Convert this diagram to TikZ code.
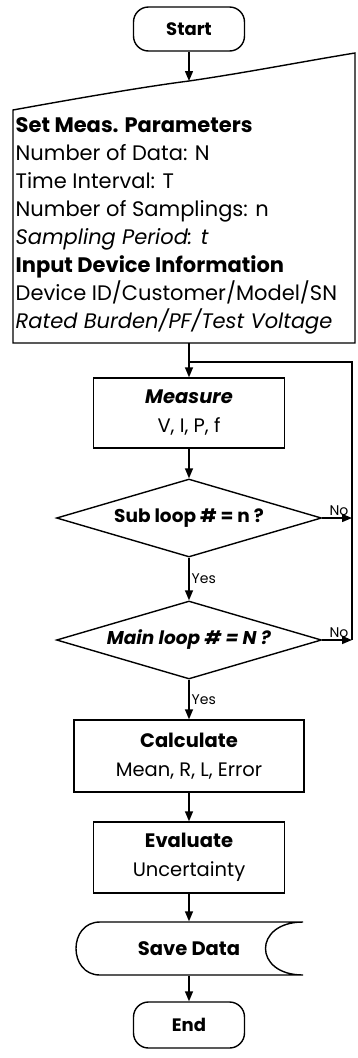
\documentclass[tikz,border=0pt]{standalone}
\usepackage{fontspec}
\setmainfont{Poppins}
\usetikzlibrary{shapes.geometric,arrows.meta}
\begin{document}
\begin{tikzpicture}[x=1pt,y=-1pt,line width=1.4pt,
  >={Triangle[length=10pt,width=8pt]},
  term/.style={draw,rectangle,rounded corners=15pt,minimum width=111pt,minimum height=44pt,inner sep=0pt,font=\bfseries\fontsize{18}{20}\selectfont},
  proc/.style={draw,rectangle,minimum width=191pt,minimum height=70pt,inner sep=0pt,align=center,font=\fontsize{19.5}{29}\selectfont},
  decision/.style={draw,diamond,shape aspect=3.4,minimum width=265pt,minimum height=78pt,inner sep=0pt,font=\bfseries\fontsize{18.5}{22}\selectfont},
  lbl/.style={font=\fontsize{14}{16}\selectfont,inner sep=2pt},
  ghost/.style={rectangle,inner sep=0pt}]
\useasboundingbox (0,0) rectangle (357,1058);

% Start
\node[term] (start) at (189,29) {Start};

% manual input shape
\draw (13,343) -- (13,110) .. controls (90,96) and (150,86) .. (189,81)
      .. controls (250,72) and (300,62) .. (355,53) -- (355,343) -- cycle;
\coordinate (pin) at (189,81);
\coordinate (pout) at (189,343);
\node[anchor=north west,align=left,inner sep=0pt,font=\fontsize{21}{28}\selectfont] (params) at (15,117)
 {\textbf{Set Meas. Parameters}\\
  Number of Data: N\\
  Time Interval: T\\
  Number of Samplings: n\\
  \textit{Sampling Period: t}\\
  \textbf{Input Device Information}\\
  Device ID/Customer/Model/SN\\
  \textit{Rated Burden/PF/Test Voltage}};

% process boxes
\node[proc] (meas) at (189,413) {\textbf{\textit{Measure}}\\V, I, P, f};
\node[decision] (sub) at (189,518) {Sub loop \# = n ?};
\node[decision] (main) at (189,640) {\textit{Main loop \# = N ?}};
\node[proc,minimum width=230pt,minimum height=72pt] (calc) at (189,756) {\textbf{Calculate}\\Mean, R, L, Error};
\node[proc,minimum height=71pt] (eval) at (189,857.5) {\textbf{Evaluate}\\Uncertainty};

% stored data
\node[ghost,minimum width=229pt,minimum height=53pt,font=\bfseries\fontsize{19.5}{22}\selectfont] (save) at (189,948.5) {Save Data};
\draw (303,922) -- (100,922) .. controls (68,922) and (68,975) .. (100,975)
      -- (303,975) .. controls (253,975) and (253,922) .. (303,922) -- cycle;

\node[term,minimum height=46pt] (end) at (189,1025) {End};

% connectors
\draw[->] (start) -- (pin);
\draw[->] (pout) -- (meas);
\draw[->] (meas) -- (sub);
\draw[->] (sub) -- node[lbl,right]{Yes} (main);
\draw[->] (main) -- node[lbl,right]{Yes} (calc);
\draw[->] (calc) -- (eval);
\draw[->] (eval) -- (save);
\draw[->] (save) -- (end);

\coordinate (rsub) at (352,518);
\coordinate (rmain) at (352,640);
\coordinate (rtop) at (352,362);
\coordinate (jn) at (189,362);
\draw[->] (sub.east) -- (rsub) node[lbl,anchor=south east,inner sep=0pt,xshift=-3pt,yshift=2pt] {No};
\draw[->] (main.east) -- (rmain) node[lbl,anchor=south east,inner sep=0pt,xshift=-3pt,yshift=2pt] {No};
\draw (rmain) -- (rtop) -- (jn);
\end{tikzpicture}
\end{document}
